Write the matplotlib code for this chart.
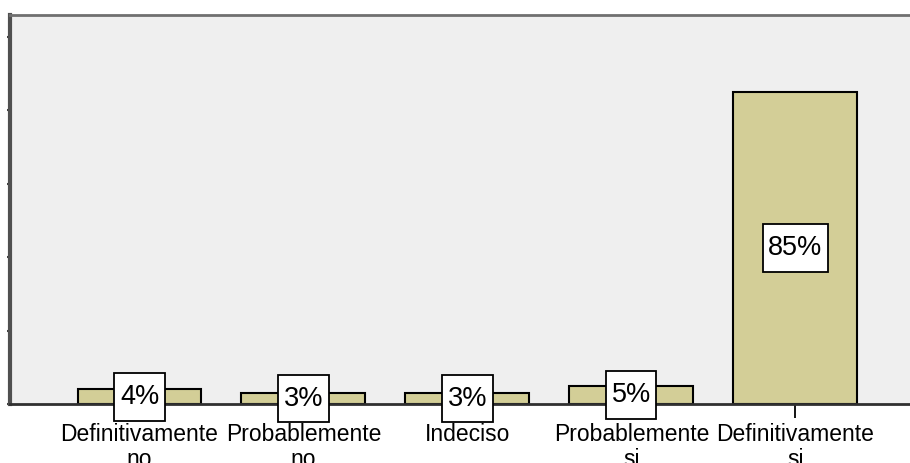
import matplotlib
matplotlib.use("Agg")
import matplotlib.pyplot as plt
from matplotlib.path import Path

categories = ["Definitivamente\nno", "Probablemente\nno", "Indeciso",
              "Probablemente\nsi", "Definitivamente\nsi"]
percent = [4, 3, 3, 5, 85]
labels = ["4%", "3%", "3%", "5%", "85%"]
y_ticks = [0, 20, 40, 60, 80, 100]

BG = "#efefef"
BAR = "#d3ce97"


def tall_box(x0, y0, width, height, mutation_size):
    # square label box, taller than it is padded sideways
    px = 0.20 * mutation_size
    py = 0.40 * mutation_size
    x0, y0 = x0 - px, y0 - py
    x1, y1 = x0 + width + 2 * px, y0 + height + 2 * py
    return Path([(x0, y0), (x1, y0), (x1, y1), (x0, y1), (x0, y0)], closed=True)


plt.rcParams["font.family"] = ["Liberation Sans", "DejaVu Sans"]

fig = plt.figure(figsize=(9.1, 4.63), dpi=100)
fig.patch.set_facecolor("white")
ax = fig.add_axes([0.011, 0.1274, 0.989, 0.8402])
ax.set_facecolor(BG)

x = list(range(len(categories)))
ax.bar(x, percent, width=0.756, color=BAR, edgecolor="black", linewidth=1.5, zorder=2)

for xi, v, lab in zip(x, percent, labels):
    ax.text(xi, v / 2, lab, ha="center", va="center", fontsize=19.5, zorder=3,
            bbox=dict(boxstyle=tall_box, facecolor="white", edgecolor="black", linewidth=1.3))

ax.set_xlim(-0.79, 4.70)
ax.set_ylim(0, 106)
ax.set_xticks(x)
ax.set_xticklabels(categories, fontsize=16.5, linespacing=1.12)
ax.set_yticks(y_ticks)
ax.set_yticklabels([])
ax.tick_params(axis="x", length=10, width=1.3, color="black", pad=3.5)
ax.tick_params(axis="y", length=2, width=1.5, color="#404040")

ax.spines["right"].set_visible(False)
ax.spines["left"].set_color("#505050")
ax.spines["left"].set_linewidth(3)
ax.spines["top"].set_color("#707070")
ax.spines["top"].set_linewidth(2)
ax.spines["bottom"].set_color("#303030")
ax.spines["bottom"].set_linewidth(2)

fig.savefig("out.png", dpi=100, facecolor="white")
